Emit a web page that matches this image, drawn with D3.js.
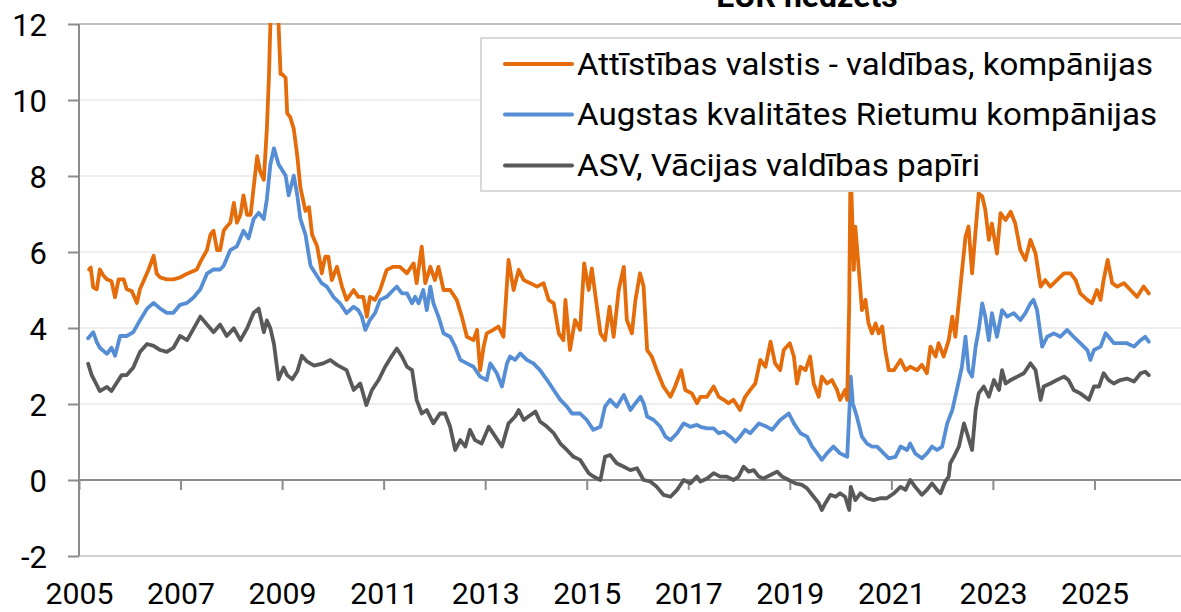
<!DOCTYPE html>
<html>
<head>
<meta charset="utf-8">
<script src="https://cdn.jsdelivr.net/npm/d3@7/dist/d3.min.js"></script>
<style>
  html, body { margin: 0; padding: 0; background: #ffffff; }
  svg { display: block; }
  text { font-family: Roboto, "Liberation Sans", sans-serif; }
</style>
</head>
<body>
<svg id="chart" width="1181" height="612"></svg>
<script>
// ---------- DATA ----------
const titleText = "EUR hedžēts";
const seriesNames = [
  "Attīstības valstis - valdības, kompānijas",
  "Augstas kvalitātes Rietumu kompānijas",
  "ASV, Vācijas valdības papīri"
];
const xTickYears = [2005, 2007, 2009, 2011, 2013, 2015, 2017, 2019, 2021, 2023, 2025];
const yTickValues = [-2, 0, 2, 4, 6, 8, 10, 12];

// Emerging markets (orange)
const emYears = [
  2005.20,2005.23,2005.28,2005.35,2005.41,2005.48,2005.55,2005.64,2005.71,2005.78,2005.88,2005.94,
  2006.04,2006.14,2006.20,2006.27,2006.37,2006.47,2006.53,2006.60,2006.73,2006.86,2006.99,
  2007.13,2007.32,2007.39,2007.52,2007.59,2007.65,2007.72,2007.78,2007.85,2007.91,2007.98,
  2008.05,2008.11,2008.18,2008.24,2008.31,2008.38,2008.44,2008.51,2008.57,2008.64,2008.70,2008.74,2008.77,2008.80,2008.86,2008.90,2008.93,2008.97,
  2009.00,2009.07,2009.10,2009.16,2009.23,2009.30,2009.36,2009.46,2009.53,2009.59,2009.69,2009.76,2009.78,2009.85,2009.91,2009.98,
  2010.08,2010.18,2010.27,2010.41,2010.50,2010.60,2010.67,2010.73,2010.83,2010.93,
  2011.06,2011.19,2011.32,2011.46,2011.59,2011.65,2011.75,2011.82,2011.92,
  2012.01,2012.08,2012.18,2012.31,2012.44,2012.54,2012.64,2012.77,2012.84,2012.90,2012.97,
  2013.03,2013.16,2013.26,2013.36,2013.46,2013.56,2013.66,2013.76,2013.89,
  2014.02,2014.15,2014.25,2014.35,2014.45,2014.54,2014.58,2014.67,2014.77,2014.87,2014.95,
  2015.04,2015.10,2015.20,2015.27,2015.36,2015.45,2015.53,2015.63,2015.73,2015.79,2015.89,2015.96,
  2016.05,2016.12,2016.19,2016.28,2016.38,2016.51,2016.65,2016.74,2016.86,2016.94,
  2017.07,2017.17,2017.24,2017.37,2017.50,2017.60,2017.70,2017.79,2017.89,
  2018.02,2018.12,2018.22,2018.32,2018.42,2018.52,2018.62,2018.71,2018.81,2018.88,
  2019.00,2019.08,2019.14,2019.21,2019.31,2019.40,2019.47,2019.57,2019.63,2019.73,2019.83,2019.93,2019.99,
  2020.09,2020.13,2020.17,2020.19,2020.20,2020.23,2020.26,2020.29,2020.36,2020.42,2020.49,2020.55,2020.62,2020.69,2020.75,2020.82,2020.88,2020.95,
  2021.05,2021.18,2021.28,2021.37,2021.51,2021.60,2021.70,2021.77,2021.87,2021.93,
  2022.03,2022.13,2022.20,2022.26,2022.36,2022.46,2022.52,2022.59,2022.66,2022.72,2022.79,2022.85,2022.92,2022.98,
  2023.08,2023.15,2023.25,2023.35,2023.44,2023.54,2023.64,2023.74,2023.84,2023.94,
  2024.03,2024.13,2024.26,2024.40,2024.53,2024.63,2024.72,2024.86,2024.95,
  2025.05,2025.12,2025.18,2025.26,2025.35,2025.45,2025.58,2025.71,2025.84,2025.97,
  2026.07
];
const emValues = [
  5.54,5.59,5.07,5.02,5.54,5.38,5.28,5.23,4.81,5.28,5.28,5.02,
  4.97,4.66,5.02,5.23,5.54,5.90,5.43,5.33,5.28,5.28,5.33,
  5.43,5.54,5.74,6.05,6.46,6.56,6.05,6.05,6.56,6.67,6.77,
  7.29,6.77,6.98,7.49,6.98,6.98,7.70,8.52,8.11,7.90,9.24,10.58,12.02,13.0,13.8,13.0,12.0,10.68,
  10.68,10.58,9.65,9.55,9.24,8.52,7.70,7.08,7.18,6.46,6.15,5.64,5.44,5.88,5.88,5.26,
  5.61,5.09,4.74,5.00,4.82,4.82,4.30,4.82,4.74,5.00,
  5.53,5.61,5.61,5.44,5.70,5.18,6.14,5.18,5.61,
  5.26,5.61,5.00,5.00,4.74,4.30,3.77,3.68,3.95,2.89,3.51,
  3.86,3.95,4.04,3.77,5.79,5.00,5.53,5.26,5.18,
  5.09,5.18,4.74,4.65,3.86,3.68,4.74,3.42,4.21,3.95,5.70,
  5.00,5.57,4.56,3.86,3.68,4.56,3.77,5.00,5.61,4.21,3.86,4.74,
  5.44,5.09,3.42,3.25,2.89,2.46,2.19,2.46,2.89,2.37,
  2.28,2.02,2.19,2.19,2.46,2.19,2.11,2.02,2.11,
  1.84,2.19,2.37,2.54,3.16,2.98,3.64,3.07,2.89,3.42,
  3.60,3.25,2.54,2.98,2.89,3.25,2.54,2.19,2.72,2.54,2.63,2.37,2.11,
  2.37,2.11,4.65,7.54,8.20,6.84,5.53,6.67,5.53,4.47,4.74,4.12,3.86,4.12,3.86,4.04,3.42,2.89,
  2.89,3.16,2.89,2.98,2.89,3.03,2.81,3.51,3.25,3.60,
  3.25,3.68,4.30,3.77,5.09,6.40,6.67,5.44,6.58,7.54,7.46,7.11,6.32,6.75,
  5.96,7.02,6.84,7.06,6.75,6.05,5.79,6.32,5.96,5.09,
  5.26,5.09,5.26,5.44,5.44,5.26,4.91,4.74,4.65,
  5.00,4.74,5.26,5.79,5.18,5.09,5.18,5.00,4.82,5.09,
  4.91
];

// Investment grade corporates (blue)
const igYears = [
  2005.18,2005.28,2005.35,2005.41,2005.55,2005.64,2005.71,2005.81,2005.94,
  2006.07,2006.20,2006.34,2006.47,2006.60,2006.73,2006.86,2006.99,
  2007.13,2007.26,2007.39,2007.52,2007.65,2007.78,2007.85,2007.98,
  2008.11,2008.24,2008.34,2008.44,2008.54,2008.64,2008.70,2008.77,2008.84,2008.93,
  2009.07,2009.13,2009.23,2009.30,2009.36,2009.46,2009.56,2009.66,2009.78,2009.88,
  2010.01,2010.14,2010.27,2010.41,2010.50,2010.57,2010.64,2010.73,2010.83,2010.93,
  2011.06,2011.19,2011.26,2011.36,2011.46,2011.56,2011.62,2011.69,2011.78,2011.85,2011.92,2011.98,
  2012.08,2012.18,2012.31,2012.41,2012.51,2012.64,2012.77,2012.90,
  2013.03,2013.10,2013.23,2013.33,2013.43,2013.49,2013.59,2013.69,2013.82,2013.95,
  2014.08,2014.22,2014.35,2014.48,2014.61,2014.71,2014.87,
  2015.00,2015.13,2015.27,2015.36,2015.46,2015.59,2015.73,2015.86,2015.96,
  2016.06,2016.12,2016.19,2016.32,2016.45,2016.55,2016.65,2016.78,2016.91,
  2017.04,2017.17,2017.24,2017.37,2017.50,2017.60,2017.70,2017.83,2017.93,
  2018.02,2018.12,2018.22,2018.39,2018.55,2018.65,2018.81,2018.98,
  2019.08,2019.21,2019.34,2019.44,2019.54,2019.63,2019.73,2019.86,2019.99,
  2020.13,2020.18,2020.20,2020.24,2020.32,2020.42,2020.52,2020.62,2020.72,2020.85,2020.95,
  2021.08,2021.18,2021.31,2021.37,2021.47,2021.60,2021.70,2021.80,2021.90,
  2022.00,2022.10,2022.20,2022.29,2022.39,2022.46,2022.52,2022.59,2022.66,2022.72,2022.79,2022.85,2022.92,2022.98,
  2023.08,2023.18,2023.28,2023.41,2023.54,2023.64,2023.74,2023.80,2023.87,2023.97,
  2024.07,2024.20,2024.33,2024.46,2024.59,2024.72,2024.86,2024.92,2024.99,
  2025.12,2025.22,2025.28,2025.38,2025.51,2025.64,2025.78,2025.91,
  2026.00,2026.07
];
const igValues = [
  3.73,3.89,3.63,3.48,3.32,3.48,3.27,3.79,3.79,
  3.89,4.20,4.51,4.66,4.51,4.40,4.40,4.61,
  4.66,4.81,5.02,5.43,5.54,5.54,5.64,6.05,
  6.15,6.56,6.36,6.87,7.03,6.87,7.39,8.31,8.73,8.31,
  8.01,7.49,8.01,7.49,6.87,6.46,5.64,5.43,5.18,5.09,
  4.82,4.65,4.39,4.56,4.47,4.30,3.95,4.21,4.39,4.74,
  4.82,5.00,5.09,4.91,4.91,4.65,4.82,4.65,5.00,4.47,5.09,4.65,
  4.30,3.86,3.77,3.51,3.16,3.07,2.98,2.72,
  2.63,3.07,2.81,2.46,3.07,3.25,3.16,3.33,3.16,3.07,
  2.89,2.63,2.37,2.11,1.93,1.75,1.75,
  1.58,1.32,1.40,1.93,2.11,1.93,2.24,1.84,2.02,
  2.19,2.02,1.67,1.58,1.40,1.14,1.05,1.23,1.49,
  1.40,1.45,1.40,1.36,1.36,1.23,1.27,1.14,1.01,
  1.14,1.32,1.23,1.49,1.40,1.32,1.58,1.75,
  1.49,1.23,1.14,0.88,0.70,0.53,0.70,0.88,0.70,
  0.61,2.02,2.72,2.02,1.67,1.14,0.96,0.88,0.88,0.70,0.57,
  0.61,0.88,0.79,0.96,0.70,0.57,0.70,0.88,0.79,
  0.88,1.49,1.84,2.37,2.98,3.77,2.89,2.72,3.51,3.95,4.65,4.30,3.68,4.39,
  3.77,4.47,4.30,4.39,4.21,4.39,4.65,4.74,4.47,3.51,
  3.77,3.86,3.77,3.95,3.77,3.60,3.42,3.16,3.42,
  3.51,3.86,3.77,3.60,3.60,3.60,3.51,3.68,
  3.77,3.64
];

// US / German government bonds (dark grey)
const govYears = [
  2005.18,2005.25,2005.35,2005.41,2005.55,2005.64,2005.74,2005.84,2005.94,
  2006.07,2006.20,2006.34,2006.47,2006.60,2006.73,2006.86,2006.99,
  2007.13,2007.26,2007.39,2007.52,2007.65,2007.78,2007.91,
  2008.05,2008.18,2008.31,2008.44,2008.54,2008.64,2008.70,2008.77,2008.84,2008.93,
  2009.03,2009.10,2009.20,2009.30,2009.39,2009.49,2009.63,2009.81,2009.95,
  2010.08,2010.27,2010.41,2010.54,2010.66,2010.77,2010.90,
  2011.03,2011.13,2011.26,2011.36,2011.46,2011.56,2011.65,2011.75,2011.85,2011.98,
  2012.11,2012.21,2012.31,2012.41,2012.51,2012.61,2012.70,2012.80,2012.93,
  2013.07,2013.20,2013.33,2013.46,2013.59,2013.66,2013.76,2013.85,2013.99,
  2014.08,2014.22,2014.35,2014.48,2014.61,2014.74,2014.87,
  2015.04,2015.13,2015.27,2015.36,2015.46,2015.59,2015.73,2015.86,2015.99,
  2016.12,2016.25,2016.38,2016.51,2016.65,2016.78,2016.91,
  2017.04,2017.17,2017.24,2017.37,2017.50,2017.63,2017.76,2017.89,2017.99,
  2018.09,2018.19,2018.29,2018.39,2018.48,2018.62,2018.75,2018.85,2018.98,
  2019.11,2019.24,2019.34,2019.47,2019.57,2019.63,2019.70,2019.80,2019.90,2019.99,
  2020.09,2020.17,2020.20,2020.29,2020.39,2020.52,2020.65,2020.78,2020.91,
  2021.05,2021.18,2021.28,2021.37,2021.47,2021.60,2021.70,2021.80,2021.90,2021.97,
  2022.06,2022.13,2022.16,2022.23,2022.33,2022.43,2022.49,2022.59,2022.66,2022.72,2022.82,2022.92,
  2023.02,2023.12,2023.18,2023.25,2023.35,2023.48,2023.61,2023.74,2023.84,2023.94,
  2024.00,2024.13,2024.26,2024.40,2024.49,2024.59,2024.72,2024.89,2024.99,
  2025.09,2025.18,2025.28,2025.38,2025.51,2025.64,2025.78,2025.91,
  2026.00,2026.07
];
const govValues = [
  3.06,2.76,2.50,2.34,2.45,2.34,2.55,2.76,2.76,
  2.96,3.37,3.58,3.53,3.42,3.37,3.48,3.79,
  3.68,3.99,4.30,4.09,3.89,4.09,3.79,
  3.99,3.68,3.99,4.40,4.51,3.89,4.20,3.99,3.58,2.65,
  2.96,2.76,2.65,2.86,3.27,3.12,3.01,3.07,3.16,
  3.03,2.89,2.37,2.54,1.97,2.37,2.63,
  2.98,3.20,3.46,3.25,2.98,2.89,2.11,1.75,1.84,1.49,
  1.75,1.75,1.40,0.79,1.05,0.88,1.32,1.05,0.96,
  1.40,1.14,0.88,1.49,1.67,1.84,1.58,1.67,1.80,
  1.54,1.40,1.23,0.96,0.79,0.61,0.53,
  0.18,0.09,0.00,0.61,0.66,0.44,0.35,0.26,0.31,
  0.00,-0.04,-0.18,-0.39,-0.44,-0.26,0.00,
  -0.09,0.09,-0.04,0.04,0.18,0.09,0.09,0.00,0.09,
  0.35,0.22,0.26,0.09,0.04,0.13,0.22,0.09,0.00,
  -0.09,-0.13,-0.22,-0.44,-0.61,-0.79,-0.61,-0.39,-0.44,-0.35,
  -0.44,-0.79,-0.18,-0.53,-0.35,-0.48,-0.53,-0.48,-0.48,
  -0.35,-0.18,-0.26,0.00,-0.18,-0.39,-0.26,-0.09,-0.26,-0.35,
  -0.04,0.09,0.44,0.61,0.88,1.49,1.23,0.79,1.84,2.28,2.46,2.19,
  2.63,2.37,2.89,2.54,2.63,2.72,2.81,3.07,2.89,2.11,
  2.46,2.54,2.63,2.72,2.63,2.37,2.28,2.11,2.46,
  2.46,2.81,2.63,2.54,2.63,2.67,2.59,2.81,
  2.85,2.76
];

// ---------- LAYOUT / STYLE ----------
const colors = ["#E46C0A", "#558ED5", "#595959"];
const plot = { left: 79, top: 24, bottom: 556, right: 1196 };
const xDomain = [2005, 2027];
const yDomain = [-2, 12];

const svg = d3.select("#chart");
const x = d3.scaleLinear().domain(xDomain).range([plot.left, plot.right]);
const y = d3.scaleLinear().domain(yDomain).range([plot.bottom, plot.top]);

// gridlines
const grid = svg.append("g");
grid.selectAll("line")
  .data(yTickValues.filter(v => v !== 0))
  .join("line")
  .attr("x1", plot.left).attr("x2", plot.right)
  .attr("y1", d => y(d)).attr("y2", d => y(d))
  .attr("stroke", d => d === 12 ? "#bfbfbf" : (d === -2 ? "#d0d0d0" : "#eeeeee"))
  .attr("stroke-width", 2);

// y axis
const yAxis = d3.axisLeft(y).tickValues(yTickValues).tickSize(11).tickPadding(20)
  .tickFormat(d => String(d));
const yg = svg.append("g").attr("transform", `translate(${plot.left},0)`).call(yAxis);
yg.select(".domain").attr("stroke", "#8c8c8c").attr("stroke-width", 2)
  .attr("d", `M0,${plot.top}V${plot.bottom}`);
yg.selectAll(".tick line").attr("stroke", "#8c8c8c").attr("stroke-width", 2);
yg.selectAll(".tick text").attr("font-size", 31).attr("fill", "#000")
  .attr("font-family", "Roboto").attr("x", 47 - plot.left).attr("dy", "0.36em");

// x axis at zero
const xAxis = d3.axisBottom(x).tickValues(xTickYears).tickSize(10).tickFormat(d => String(d));
const xg = svg.append("g").attr("transform", `translate(0,${y(0)})`).call(xAxis);
xg.select(".domain").attr("stroke", "#8c8c8c").attr("stroke-width", 2)
  .attr("d", `M${plot.left},0H${plot.right}`);
xg.selectAll(".tick line").attr("stroke", "#8c8c8c").attr("stroke-width", 2);
xg.selectAll(".tick text").attr("font-size", 30).attr("fill", "#000")
  .attr("font-family", "Roboto").attr("dy", null)
  .attr("y", 604 - y(0)).attr("textLength", 68).attr("lengthAdjust", "spacingAndGlyphs");

// clip
svg.append("clipPath").attr("id", "plotclip").append("rect")
  .attr("x", plot.left).attr("y", plot.top - 1)
  .attr("width", plot.right - plot.left).attr("height", plot.bottom - plot.top + 1);

const line = d3.line().x(d => x(d[0])).y(d => y(d[1]));
const series = [
  { years: emYears, values: emValues, color: colors[0] },
  { years: igYears, values: igValues, color: colors[1] },
  { years: govYears, values: govValues, color: colors[2] }
];
const lines = svg.append("g").attr("clip-path", "url(#plotclip)");
[2, 1, 0].forEach(i => {
  const s = series[i];
  lines.append("path")
    .datum(s.years.map((yr, k) => [yr, s.values[k]]))
    .attr("d", line)
    .attr("fill", "none")
    .attr("stroke", s.color)
    .attr("stroke-width", 3.8)
    .attr("stroke-linejoin", "round")
    .attr("stroke-linecap", "round");
});

// legend
const legend = svg.append("g");
legend.append("rect")
  .attr("x", 481).attr("y", 38).attr("width", 740).attr("height", 153)
  .attr("fill", "#ffffff").attr("stroke", "#d9d9d9").attr("stroke-width", 2);
const rowY = [64, 114.5, 165.5];
const textW = [576, 580, 403];
seriesNames.forEach((name, i) => {
  legend.append("line")
    .attr("x1", 505).attr("x2", 572).attr("y1", rowY[i]).attr("y2", rowY[i])
    .attr("stroke", colors[i]).attr("stroke-width", 4).attr("stroke-linecap", "round");
  legend.append("text")
    .attr("x", 577).attr("y", rowY[i] + 10.5)
    .attr("font-size", 32).attr("fill", "#000")
    .attr("textLength", textW[i]).attr("lengthAdjust", "spacingAndGlyphs")
    .text(name);
});

// title (partly cut off at the top, as in the reference)
svg.append("text")
  .attr("x", 807).attr("y", 7)
  .attr("text-anchor", "middle")
  .attr("font-size", 32).attr("font-weight", "bold").attr("fill", "#000")
  .text(titleText);
</script>
</body>
</html>
